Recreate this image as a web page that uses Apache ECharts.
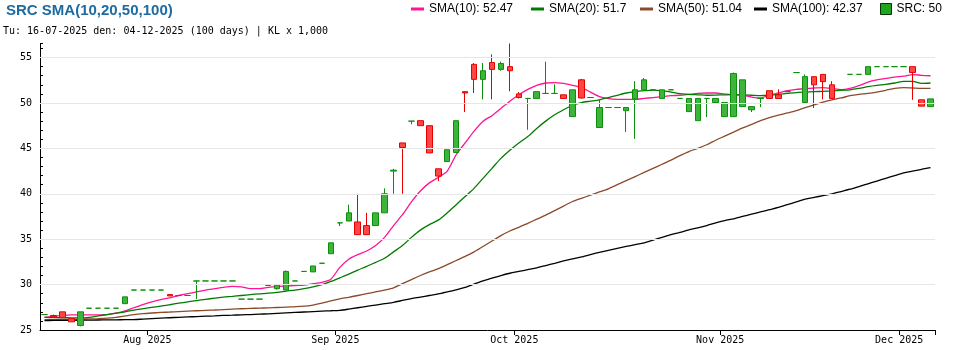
<!DOCTYPE html>
<html><head><meta charset="utf-8">
<script src="https://cdn.jsdelivr.net/npm/echarts@6/dist/echarts.min.js"></script>
<style>html,body{margin:0;padding:0;background:#fff}#c{width:970px;height:350px}</style>
</head><body><div id="c"></div>
<script>
const dates = [
'2025-07-16','2025-07-17','2025-07-18','2025-07-21','2025-07-22','2025-07-23','2025-07-24','2025-07-25','2025-07-28','2025-07-29','2025-07-30','2025-07-31',
'2025-08-01','2025-08-04','2025-08-05','2025-08-06','2025-08-07','2025-08-08','2025-08-11','2025-08-12','2025-08-13','2025-08-14','2025-08-15','2025-08-18','2025-08-19','2025-08-20','2025-08-21','2025-08-22','2025-08-25','2025-08-26','2025-08-27','2025-08-28','2025-08-29',
'2025-09-03','2025-09-04','2025-09-05','2025-09-08','2025-09-09','2025-09-10','2025-09-11','2025-09-12','2025-09-15','2025-09-16','2025-09-17','2025-09-18','2025-09-19','2025-09-22','2025-09-23','2025-09-24','2025-09-25','2025-09-26','2025-09-29','2025-09-30',
'2025-10-01','2025-10-02','2025-10-03','2025-10-06','2025-10-07','2025-10-08','2025-10-09','2025-10-10','2025-10-13','2025-10-14','2025-10-15','2025-10-16','2025-10-17','2025-10-20','2025-10-21','2025-10-22','2025-10-23','2025-10-24','2025-10-27','2025-10-28','2025-10-29','2025-10-30','2025-10-31',
'2025-11-03','2025-11-04','2025-11-05','2025-11-06','2025-11-07','2025-11-10','2025-11-11','2025-11-12','2025-11-13','2025-11-14','2025-11-17','2025-11-18','2025-11-19','2025-11-20','2025-11-21','2025-11-24','2025-11-25','2025-11-26','2025-11-27','2025-11-28',
'2025-12-01','2025-12-02','2025-12-03','2025-12-04'];

const opens = [26.7,26.6,27.0,26.25,25.5,27.4,27.4,27.4,27.4,27.9,
29.4,29.4,29.4,29.4,28.9,28.8,28.8,30.4,30.4,30.4,
30.4,30.4,28.4,28.4,28.4,29.9,29.55,29.4,30.4,31.45,
31.4,32.35,33.4,36.8,37.0,36.9,36.5,36.5,37.9,42.5,
45.6,48.0,48.05,47.5,42.75,43.55,44.55,51.25,54.25,52.6,
54.45,53.7,54.0,51.0,50.5,50.5,51.05,51.05,50.9,48.5,
52.55,50.6,47.3,49.5,49.5,49.15,50.45,51.45,51.45,50.5,
51.45,50.5,49.05,48.05,50.5,50.05,48.5,48.5,49.6,49.25,
50.5,51.35,50.9,51.25,53.35,50.05,52.9,53.15,52.0,51.4,
53.15,53.15,53.15,54.0,54.0,54.0,54.0,54.0,50.35,49.6];

const closes = [26.7,26.45,26.35,25.9,27.0,27.4,27.4,27.4,27.4,28.65,
29.4,29.4,29.4,29.4,28.75,28.8,28.8,30.4,30.4,30.4,
30.4,30.4,28.4,28.4,28.4,29.9,29.95,31.45,30.4,31.45,
32.05,32.35,34.6,36.8,37.9,35.5,35.5,37.9,40.0,42.6,
45.1,48.0,47.5,44.5,41.95,44.85,48.05,51.1,52.6,53.55,
53.7,54.35,53.55,50.6,50.5,51.25,51.05,51.05,50.5,51.45,
50.55,50.6,49.5,49.5,49.5,49.5,51.45,52.55,51.45,51.45,
51.45,50.5,50.5,50.5,50.5,50.5,50.05,53.25,52.55,49.6,
50.5,50.5,50.5,51.25,53.35,52.9,52.0,52.35,50.5,51.4,
53.15,53.15,54.0,54.0,54.0,54.0,54.0,53.35,49.65,50.45];

const lows = [26.7,26.45,26.35,25.9,25.4,27.4,27.4,27.4,27.3,27.9,
29.4,29.4,29.4,29.4,28.75,28.8,28.8,28.4,30.4,30.4,
30.4,30.4,28.4,28.4,28.4,29.9,29.45,29.4,30.4,31.45,
31.4,32.35,33.4,36.45,37.0,35.5,35.5,36.5,37.9,40.0,
40.0,47.65,47.5,44.5,41.4,43.55,44.55,49.0,51.1,50.4,
50.4,53.55,51.3,50.5,47.05,50.5,51.05,51.05,50.5,48.5,
50.5,50.6,47.3,49.5,49.5,46.8,46.05,51.45,51.45,50.5,
51.45,50.5,49.05,48.05,48.45,50.05,48.5,48.5,49.6,49.0,
49.55,50.5,50.5,51.25,53.35,50.05,49.45,50.4,50.5,51.4,
53.15,53.15,53.15,54.0,54.0,54.0,54.0,50.35,49.65,49.6];

const highs = [26.7,26.7,27.0,26.25,27.0,27.4,27.4,27.4,27.4,28.65,
29.4,29.4,29.4,29.4,28.9,28.8,28.8,30.4,30.4,30.4,
30.4,30.4,28.4,28.4,28.4,29.9,29.95,31.55,30.4,31.45,
32.05,32.35,34.6,36.8,38.8,40.0,37.9,37.9,40.6,42.75,
45.6,48.0,48.05,47.5,42.75,44.85,48.05,51.25,54.4,54.4,
55.35,54.55,56.55,51.2,50.5,51.25,54.55,52.05,50.9,51.45,
52.65,50.6,50.4,49.5,49.5,49.5,52.4,52.75,51.45,51.45,
51.45,50.5,50.5,50.5,50.5,50.5,50.05,53.35,52.55,49.6,
50.5,51.35,51.5,51.25,53.35,53.15,52.9,53.15,52.4,51.4,
53.15,53.15,54.0,54.0,54.0,54.0,54.0,54.0,50.35,50.45];

const sma10 = [26.4,26.5,26.6,26.66,26.66,26.66,26.66,26.7,26.85,27.1,
27.45,27.8,28.1,28.35,28.55,28.8,29.0,29.2,29.4,29.55,
29.7,29.8,29.75,29.55,29.55,29.7,29.8,29.85,29.9,29.95,
30.1,30.25,30.6,31.9,32.8,33.3,33.7,34.3,35.2,36.5,
37.7,39.1,40.3,41.2,41.8,42.5,44.3,45.6,46.9,48.0,
48.6,49.4,50.2,50.9,51.5,51.95,52.2,52.25,52.15,51.95,
51.7,51.2,50.7,50.48,50.4,50.4,50.4,50.5,50.6,50.7,
50.8,50.85,50.95,51.05,51.1,51.1,51.0,50.92,50.85,50.65,
50.55,50.85,51.1,51.35,51.5,51.58,51.65,51.7,51.6,51.47,
51.6,51.9,52.3,52.55,52.7,52.85,52.95,53.13,53.05,53.0];

const sma20 = [26.4,26.38,26.36,26.34,26.33,26.4,26.55,26.7,26.85,27.0,
27.2,27.35,27.5,27.62,27.78,27.95,28.1,28.24,28.38,28.5,
28.62,28.7,28.8,28.9,28.98,29.05,29.15,29.28,29.4,29.55,
29.75,30.0,30.35,30.75,31.15,31.6,32.0,32.45,32.9,33.6,
34.3,35.2,36.0,36.6,37.1,37.9,38.8,39.7,40.6,41.7,
42.8,43.9,44.8,45.6,46.3,47.2,48.0,48.7,49.25,49.75,
50.05,50.2,50.35,50.6,50.85,51.1,51.25,51.35,51.42,51.35,
51.2,51.03,50.95,50.9,50.85,50.87,50.9,50.92,50.9,50.85,
50.8,50.85,50.95,51.05,51.15,51.2,51.25,51.28,51.33,51.4,
51.45,51.6,51.8,51.95,52.05,52.2,52.38,52.38,52.15,52.2];

const sma50 = [26.15,26.16,26.17,26.18,26.2,26.22,26.25,26.3,26.4,26.55,
26.7,26.8,26.87,26.93,26.98,27.03,27.08,27.12,27.16,27.2,
27.25,27.3,27.34,27.38,27.41,27.44,27.48,27.52,27.56,27.62,
27.75,27.95,28.2,28.43,28.6,28.8,29.0,29.2,29.4,29.65,
30.1,30.55,31.0,31.4,31.75,32.2,32.65,33.1,33.6,34.2,
34.8,35.4,35.9,36.3,36.75,37.2,37.65,38.15,38.65,39.15,
39.5,39.85,40.2,40.55,41.0,41.45,41.9,42.35,42.8,43.25,
43.7,44.2,44.65,45.0,45.4,45.9,46.35,46.8,47.25,47.65,
48.05,48.4,48.65,48.9,49.15,49.5,49.8,50.1,50.35,50.55,
50.8,50.95,51.05,51.2,51.4,51.6,51.7,51.65,51.6,51.6];

const sma100 = [26.04,26.05,26.06,26.07,26.08,26.09,26.1,26.11,26.12,26.14,
26.15,26.2,26.25,26.3,26.35,26.4,26.44,26.48,26.52,26.55,
26.6,26.63,26.67,26.7,26.74,26.78,26.83,26.88,26.93,26.98,
27.03,27.08,27.12,27.17,27.3,27.45,27.6,27.75,27.9,28.05,
28.25,28.45,28.62,28.8,28.98,29.2,29.43,29.7,30.05,30.4,
30.7,31.0,31.25,31.45,31.65,31.85,32.1,32.35,32.6,32.83,
33.05,33.3,33.55,33.78,34.0,34.2,34.4,34.6,34.9,35.2,
35.5,35.75,36.03,36.25,36.5,36.8,37.05,37.25,37.5,37.75,
38.0,38.25,38.5,38.8,39.1,39.4,39.6,39.8,40.0,40.25,
40.5,40.8,41.1,41.4,41.7,42.0,42.3,42.5,42.7,42.87];

const yGridValues = [30,35,40,45,50,55];
const legendNames = ['SMA(10)','SMA(20)','SMA(50)','SMA(100)','SRC'];
const legendValues = ['52.47','51.7','51.04','42.37','50'];
const monthNames = ['Jan','Feb','Mar','Apr','May','Jun','Jul','Aug','Sep','Oct','Nov','Dec'];

const UP = '#3db53d', UPB = '#0b8f0b', DN = '#ff4646', DNB = '#e60000';
const lineColors = ['#ff1493','#007a00','#8b4a2b','#000000'];

const candles = dates.map((d, i) => {
  const v = [opens[i], closes[i], lows[i], highs[i]];
  if (opens[i] === closes[i]) {
    return { value: v, itemStyle: { color: UP, color0: UP, borderColor: UPB, borderColor0: UPB } };
  }
  return v;
});

const isMonthStart = (idx) => idx > 0 && dates[idx].slice(0, 7) !== dates[idx - 1].slice(0, 7);
const legendX = [411, 531, 640, 754, 880];
const MONO = 'DejaVu Sans Mono';
const SANS = 'Liberation Sans, Arial, sans-serif';

const legends = legendNames.map((n, k) => {
  const isSrc = n === 'SRC';
  return {
    data: [isSrc
      ? { name: n, icon: 'rect', itemStyle: { color: '#1fa51f', borderColor: '#003300', borderWidth: 1 } }
      : { name: n, icon: 'rect', itemStyle: { color: lineColors[k] } }],
    left: legendX[k], top: 3, padding: 0,
    itemWidth: isSrc ? 11 : 13, itemHeight: isSrc ? 11 : 3,
    selectedMode: false,
    textStyle: { fontFamily: SANS, fontSize: 12, color: '#000' },
    formatter: (name) => name + ': ' + legendValues[legendNames.indexOf(name)]
  };
});

const smaData = [sma10, sma20, sma50, sma100];
const lineSeries = smaData.map((arr, k) => ({
  name: legendNames[k], type: 'line', data: arr, symbol: 'none', smooth: 0.25,
  lineStyle: { color: lineColors[k], width: 1.3 }, itemStyle: { color: lineColors[k] },
  z: 2, silent: true
}));

const chart = echarts.init(document.getElementById('c'), null, { renderer: 'canvas' });
chart.setOption({
  animation: false,
  backgroundColor: '#fff',
  title: [
    { text: 'SRC SMA(10,20,50,100)', left: 6, top: 3, padding: 0,
      textStyle: { fontFamily: SANS, fontWeight: 'bold', fontSize: 15, color: '#1c6ba3' } },
    { text: 'Tu: 16-07-2025 den: 04-12-2025 (100 days) | KL x 1,000', left: 3, top: 26, padding: 0,
      textStyle: { fontFamily: MONO, fontWeight: 'normal', fontSize: 10, color: '#000' } }
  ],
  legend: legends,
  grid: { left: 40, right: 35, top: 43.5, bottom: 20, containLabel: false },
  xAxis: {
    type: 'category', data: dates, boundaryGap: true,
    axisLine: { show: true, lineStyle: { color: '#000', width: 1 } },
    axisTick: { show: true, alignWithLabel: false, interval: isMonthStart, length: 5, lineStyle: { color: '#000' } },
    axisLabel: {
      interval: isMonthStart, margin: 5, fontFamily: MONO, fontSize: 10, color: '#000',
      align: 'center', padding: [0, 9, 0, 0],
      formatter: (v) => monthNames[parseInt(v.slice(5, 7), 10) - 1] + ' ' + v.slice(0, 4)
    },
    splitLine: { show: false }
  },
  yAxis: {
    type: 'value', min: 25, max: (e) => e.max, interval: 1, scale: true,
    axisLine: { show: true, lineStyle: { color: '#000', width: 1 } },
    axisTick: { show: true, inside: true, length: 3, lineStyle: { color: '#000' } },
    axisLabel: { margin: 8, fontFamily: MONO, fontSize: 10, color: '#000',
      formatter: (v) => (Math.abs(v % 5) < 1e-6 ? String(v) : '') },
    splitLine: { show: false }
  },
  series: [
    { name: 'grid', type: 'line', data: [], z: 1, silent: true,
      markLine: { silent: true, symbol: 'none', animation: false, label: { show: false },
        lineStyle: { type: 'solid', color: '#e6e6e6', width: 1 },
        data: yGridValues.map(v => ({ yAxis: v })) } },
    ...lineSeries,
    { name: 'SRC', type: 'candlestick', data: candles, barWidth: 6, z: 3,
      itemStyle: { color: UP, color0: DN, borderColor: UPB, borderColor0: DNB, borderWidth: 1 } }
  ]
});
</script></body></html>
